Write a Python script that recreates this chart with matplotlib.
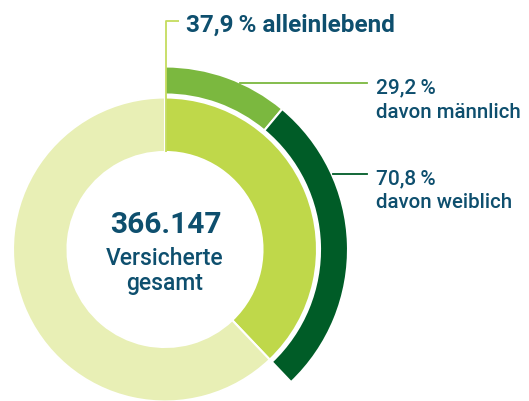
import matplotlib
matplotlib.use("Agg")
import matplotlib.pyplot as plt

# data
alleinlebend = 37.9
maennlich = 29.2
weiblich = 70.8
gesamt = "366.147"

inner_vals = [alleinlebend, 100 - alleinlebend]
outer_vals = [alleinlebend * maennlich / 100, alleinlebend * weiblich / 100, 100 - alleinlebend]

c_light = "#e8efb5"
c_yg = "#bfd84a"
c_mid = "#7bb83f"
c_dark = "#005c27"
c_text = "#0e4f6e"

W, H = 529, 401
fig = plt.figure(figsize=(W / 100, H / 100), dpi=100)
ax = fig.add_axes([0, 0, 1, 1])

def Y(y):
    # picture rows -> data y
    return H - y

def pct(v):
    return f"{v:.1f}\u2009%".replace(".", ",")

cx, cy = 165, Y(249.5)

ax.pie(inner_vals, colors=[c_yg, c_light], radius=152, center=(cx, cy),
       startangle=90, counterclock=False,
       wedgeprops=dict(width=54.5, edgecolor="white", linewidth=1.5))
wedges, _ = ax.pie(outer_vals, colors=[c_mid, c_dark, "none"], radius=183, center=(cx, cy),
                   startangle=90, counterclock=False,
                   wedgeprops=dict(width=28, edgecolor="white", linewidth=1.5))
wedges[2].set_edgecolor("none")

ax.set_xlim(0, W)
ax.set_ylim(0, H)
ax.axis("off")

# leader lines
ax.plot([cx + 0.5, cx + 0.5, 179], [Y(152), Y(20.7), Y(20.7)], color="#c5dc5e", lw=1.3,
        solid_capstyle="butt")
ax.plot([240, 367], [Y(83.3), Y(83.3)], color=c_mid, lw=1.3)
ax.plot([333, 367], [Y(174.3), Y(174.3)], color=c_dark, lw=1.3)

fam = ["Roboto", "DejaVu Sans"]
ax.text(186.5, Y(31.5), pct(alleinlebend) + " alleinlebend",
        fontsize=17.5, fontweight="bold", color=c_text, va="baseline", ha="left", family=fam)
ax.text(375.5, Y(93), pct(maennlich), fontsize=15,
        fontweight="medium", color=c_text, va="baseline", ha="left", family=fam)
ax.text(375.5, Y(118), "davon männlich", fontsize=14.8,
        fontweight="medium", color=c_text, va="baseline", ha="left", family=fam)
ax.text(375.5, Y(184), pct(weiblich), fontsize=15,
        fontweight="medium", color=c_text, va="baseline", ha="left", family=fam)
ax.text(375.5, Y(208), "davon weiblich", fontsize=14.8,
        fontweight="medium", color=c_text, va="baseline", ha="left", family=fam)

ax.text(cx + 0.5, Y(233), gesamt, fontsize=21.5, fontweight="bold", color=c_text,
        ha="center", va="baseline", family=fam)
ax.text(cx, Y(265), "Versicherte", fontsize=16.5, fontweight="medium", color=c_text,
        ha="center", va="baseline", family=fam)
ax.text(cx, Y(290), "gesamt", fontsize=16.5, fontweight="medium", color=c_text,
        ha="center", va="baseline", family=fam)

fig.savefig("out.png", dpi=100, facecolor="white")
